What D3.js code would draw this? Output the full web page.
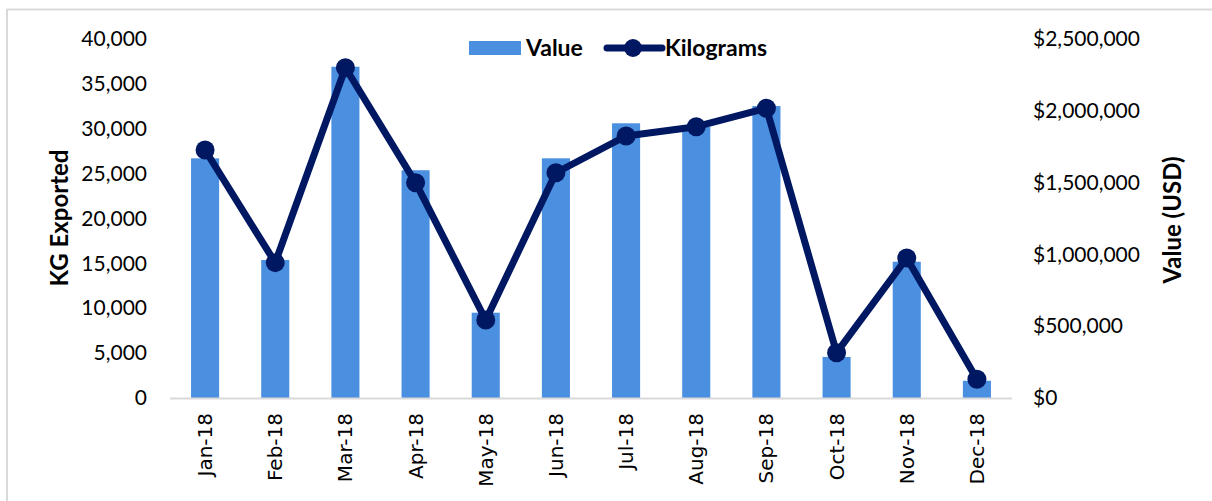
<!DOCTYPE html>
<html>
<head>
<meta charset="utf-8">
<script src="https://cdn.jsdelivr.net/npm/d3@7"></script>
<style>
  body { margin: 0; background: #fff; }
  svg { display: block; }
</style>
</head>
<body>
<div id="chart"></div>
<script>
const months = ["Jan-18", "Feb-18", "Mar-18", "Apr-18", "May-18", "Jun-18",
                "Jul-18", "Aug-18", "Sep-18", "Oct-18", "Nov-18", "Dec-18"];
const valueUsd = [1669000, 961000, 2307000, 1586000, 594000, 1669000,
                  1913000, 1887000, 2033000, 286000, 949000, 120000];
const kilograms = [27630, 15080, 36800, 23990, 8690, 25100,
                   29190, 30230, 32280, 5050, 15600, 2080];
const kgTicks = [0, 5000, 10000, 15000, 20000, 25000, 30000, 35000, 40000];
const usdTicks = [0, 500000, 1000000, 1500000, 2000000, 2500000];

const width = 1212, height = 501;
const plotLeft = 170, plotRight = 1012, plotTop = 39, plotBottom = 398;
const barColor = "#4a8fe0", lineColor = "#001862";
const tickFont = "Lato, 'Open Sans', sans-serif";

const svg = d3.select("#chart").append("svg")
    .attr("width", width)
    .attr("height", height);

// light frame on top and left edges
svg.append("line").attr("x1", 7).attr("x2", width).attr("y1", 9.5).attr("y2", 9.5)
    .attr("stroke", "#d9d9d9").attr("stroke-width", 2);
svg.append("line").attr("x1", 7).attr("x2", 7).attr("y1", 9).attr("y2", height)
    .attr("stroke", "#d9d9d9").attr("stroke-width", 2);

const x = d3.scaleBand()
    .domain(months)
    .range([plotLeft, plotRight])
    .paddingInner(0.6)
    .paddingOuter(0.3);

const yKg = d3.scaleLinear().domain([0, 40000]).range([plotBottom, plotTop]);
const yUsd = d3.scaleLinear().domain([0, 2500000]).range([plotBottom, plotTop]);

// bars (Value, right axis)
svg.selectAll(".bar")
    .data(months)
    .enter()
    .append("rect")
    .attr("class", "bar")
    .attr("x", d => x(d))
    .attr("y", (d, i) => yUsd(valueUsd[i]))
    .attr("width", x.bandwidth())
    .attr("height", (d, i) => plotBottom - yUsd(valueUsd[i]))
    .attr("fill", barColor);

// baseline
svg.append("line")
    .attr("x1", plotLeft).attr("x2", plotRight)
    .attr("y1", plotBottom + 0.5).attr("y2", plotBottom + 0.5)
    .attr("stroke", "#d9d9d9").attr("stroke-width", 2);

// left axis
const leftAxis = svg.append("g")
    .attr("transform", `translate(${plotLeft},0)`)
    .call(d3.axisLeft(yKg).tickValues(kgTicks).tickSize(0).tickPadding(23)
        .tickFormat(d3.format(",")));
leftAxis.select(".domain").remove();
leftAxis.selectAll("text")
    .style("font-family", tickFont)
    .style("font-size", "21px")
    .attr("fill", "#000");

// right axis
const rightAxis = svg.append("g")
    .attr("transform", `translate(${plotRight},0)`)
    .call(d3.axisRight(yUsd).tickValues(usdTicks).tickSize(0).tickPadding(21)
        .tickFormat(d => "$" + d3.format(",")(d)));
rightAxis.select(".domain").remove();
rightAxis.selectAll("text")
    .style("font-family", tickFont)
    .style("font-size", "21px")
    .attr("fill", "#000");

// bottom axis, rotated labels
const bottomAxis = svg.append("g")
    .attr("transform", `translate(0,${plotBottom})`)
    .call(d3.axisBottom(x).tickSize(0));
bottomAxis.select(".domain").remove();
bottomAxis.selectAll("text")
    .style("font-family", "'DejaVu Sans', sans-serif")
    .style("font-size", "20px")
    .attr("fill", "#000")
    .attr("text-anchor", "end")
    .attr("transform", "rotate(-90)")
    .attr("x", -15)
    .attr("y", 0)
    .attr("dy", "0.35em");

// line (Kilograms, left axis)
const line = d3.line()
    .x((d, i) => x(months[i]) + x.bandwidth() / 2)
    .y(d => yKg(d));

svg.append("path")
    .datum(kilograms)
    .attr("d", line)
    .attr("fill", "none")
    .attr("stroke", lineColor)
    .attr("stroke-width", 7)
    .attr("stroke-linejoin", "round");

svg.selectAll(".pt")
    .data(kilograms)
    .enter()
    .append("circle")
    .attr("class", "pt")
    .attr("cx", (d, i) => x(months[i]) + x.bandwidth() / 2)
    .attr("cy", d => yKg(d))
    .attr("r", 9.5)
    .attr("fill", lineColor);

// axis titles
svg.append("text")
    .attr("transform", `translate(68,218) rotate(-90)`)
    .attr("text-anchor", "middle")
    .style("font-family", tickFont)
    .style("font-size", "24px")
    .style("font-weight", "bold")
    .text("KG Exported");

svg.append("text")
    .attr("transform", `translate(1181,220) rotate(-90)`)
    .attr("text-anchor", "middle")
    .style("font-family", tickFont)
    .style("font-size", "24px")
    .style("font-weight", "bold")
    .text("Value (USD)");

// legend
const legend = svg.append("g");
legend.append("rect")
    .attr("x", 469).attr("y", 41).attr("width", 52).attr("height", 14)
    .attr("fill", barColor);
legend.append("text")
    .attr("x", 526).attr("y", 48).attr("dy", "0.35em")
    .style("font-family", tickFont)
    .style("font-size", "23px")
    .style("font-weight", "bold")
    .text("Value");
legend.append("line")
    .attr("x1", 607).attr("x2", 662).attr("y1", 48).attr("y2", 48)
    .attr("stroke", lineColor).attr("stroke-width", 7).attr("stroke-linecap", "round");
legend.append("circle")
    .attr("cx", 633).attr("cy", 48).attr("r", 9)
    .attr("fill", lineColor);
legend.append("text")
    .attr("x", 665).attr("y", 48).attr("dy", "0.35em")
    .style("font-family", tickFont)
    .style("font-size", "23px")
    .style("font-weight", "bold")
    .text("Kilograms");
</script>
</body>
</html>
